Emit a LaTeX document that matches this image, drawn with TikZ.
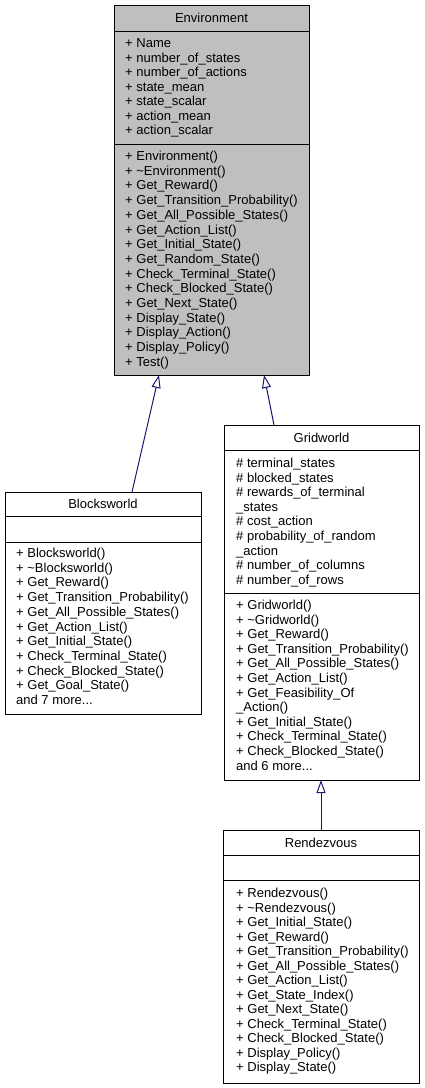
\documentclass[tikz,border=0pt]{standalone}
\usepackage{fontspec}
\setmainfont{Liberation Sans}
\usetikzlibrary{arrows.meta,calc}
\definecolor{edgeblue}{HTML}{191970}
\definecolor{envgrey}{HTML}{BFBFBF}
\newcommand\memberlist[5]{%
  \foreach \t [count=\i from 0] in {#5} {\node[mem] (#1-\i) at (#2,{#3+\i*#4}) {\t};}}
\newcommand\threedots{.\kern0pt.\kern0pt.}
\tikzset{
  mem/.style={anchor=base west, inner sep=0pt, font=\fontsize{13}{15}\selectfont},
  ttl/.style={anchor=base, inner sep=0pt, font=\fontsize{13}{15}\selectfont},
  classbox/.style={draw=black, line width=0.9pt, inner sep=0pt, outer sep=0pt, anchor=north west},
  sep/.style={draw=black, line width=0.9pt},
  inh/.style={draw=edgeblue, line width=1pt, -{Triangle[open, length=13pt, width=9pt]}}
}
\begin{document}
\begin{tikzpicture}[x=1pt,y=-1pt]
\useasboundingbox (0,0) rectangle (424,1088);
% Environment
\node[classbox, fill=envgrey, minimum width=195pt, minimum height=370pt] (env) at (114,5) {};
\draw[sep] (env.west |- 0,31) -- (env.east |- 0,31);
\draw[sep] (env.west |- 0,144) -- (env.east |- 0,144);
\node[ttl] (envT) at (211.5,22.5) {Environment};
\memberlist{envA}{125}{47.5}{14.5}{+ Name, + number\_of\_states, + number\_of\_actions, + state\_mean, + state\_scalar, + action\_mean, + action\_scalar}
\memberlist{envM}{125}{160.5}{14.7}{+ Environment(), + \textasciitilde Environment(), + Get\_Reward(), + Get\_Transition\_Probability(), + Get\_All\_Possible\_States(), + Get\_Action\_List(), + Get\_Initial\_State(), + Get\_Random\_State(), + Check\_Terminal\_State(), + Check\_Blocked\_State(), + Get\_Next\_State(), + Display\_State(), + Display\_Action(), + Display\_Policy(), + Test()}
% Blocksworld
\node[classbox, fill=white, minimum width=196pt, minimum height=222pt] (blk) at (5,492) {};
\draw[sep] (blk.west |- 0,516) -- (blk.east |- 0,516);
\draw[sep] (blk.west |- 0,542) -- (blk.east |- 0,542);
\node[ttl] (blkT) at (103,508.5) {Blocksworld};
\memberlist{blkM}{16}{557.5}{14.7}{+ Blocksworld(), + \textasciitilde Blocksworld(), + Get\_Reward(), + Get\_Transition\_Probability(), + Get\_All\_Possible\_States(), + Get\_Action\_List(), + Get\_Initial\_State(), + Check\_Terminal\_State(), + Check\_Blocked\_State(), + Get\_Goal\_State(), and 7 more\threedots}
% Gridworld
\node[classbox, fill=white, minimum width=195pt, minimum height=355pt] (grid) at (224,425) {};
\draw[sep] (grid.west |- 0,450) -- (grid.east |- 0,450);
\draw[sep] (grid.west |- 0,593) -- (grid.east |- 0,593);
\node[ttl] (gridT) at (321.5,442) {Gridworld};
\memberlist{gridA}{236}{467.5}{14.6}{\# terminal\_states, \# blocked\_states, \# rewards\_of\_terminal, \_states, \# cost\_action, \# probability\_of\_random, \_action, \# number\_of\_columns, \# number\_of\_rows}
\memberlist{gridM}{236}{609.5}{14.6}{+ Gridworld(), + \textasciitilde Gridworld(), + Get\_Reward(), + Get\_Transition\_Probability(), + Get\_All\_Possible\_States(), + Get\_Action\_List(), + Get\_Feasibility\_Of, \_Action(), + Get\_Initial\_State(), + Check\_Terminal\_State(), + Check\_Blocked\_State(), and 6 more\threedots}
% Rendezvous
\node[classbox, fill=white, minimum width=196pt, minimum height=253pt] (rdv) at (223,830) {};
\draw[sep] (rdv.west |- 0,855) -- (rdv.east |- 0,855);
\draw[sep] (rdv.west |- 0,880) -- (rdv.east |- 0,880);
\node[ttl] (rdvT) at (321,847) {Rendezvous};
\memberlist{rdvM}{236}{897.5}{14.5}{+ Rendezvous(), + \textasciitilde Rendezvous(), + Get\_Initial\_State(), + Get\_Reward(), + Get\_Transition\_Probability(), + Get\_All\_Possible\_States(), + Get\_Action\_List(), + Get\_State\_Index(), + Get\_Next\_State(), + Check\_Terminal\_State(), + Check\_Blocked\_State(), + Display\_Policy(), + Display\_State()}
% inheritance
\draw[inh] ($(blk.north west)+(127,0)$) -- ($(env.south west)+(45,0)$);
\draw[inh] ($(grid.north west)+(50,0)$) -- ($(env.south west)+(150,0)$);
\draw[inh] ($(rdv.north west)+(98,0)$) -- ($(grid.south west)+(97,0)$);
\end{tikzpicture}
\end{document}
